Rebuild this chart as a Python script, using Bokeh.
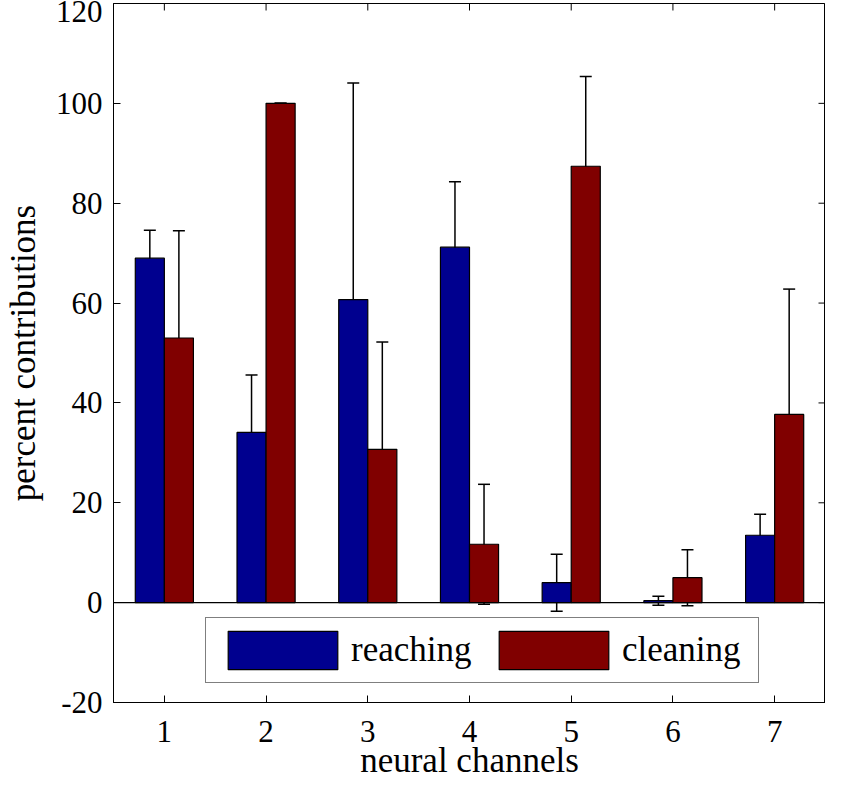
import numpy as np
from bokeh.plotting import figure
from bokeh.models import (ColumnDataSource, Range1d, FixedTicker, Span,
                          Whisker, TeeHead, Legend, LegendItem)
from bokeh.embed import file_html
from bokeh.resources import INLINE

# ---- data ----
channels = [1, 2, 3, 4, 5, 6, 7]
reaching = [69.0, 34.1, 60.7, 71.2, 4.0, 0.4, 13.5]
reaching_err = [5.6, 11.5, 43.4, 13.1, 5.7, 0.9, 4.2]
cleaning = [53.0, 100.0, 30.7, 11.7, 87.4, 5.0, 37.7]
cleaning_err = [21.5, 0.0, 21.5, 12.0, 18.0, 5.6, 25.1]
y_ticks = [-20, 0, 20, 40, 60, 80, 100, 120]
series_names = ["reaching", "cleaning"]
colors = ["#00008F", "#800000"]

FONT = "Liberation Serif"
bar_w = 0.2857
offset = bar_w / 2
X0, X1 = 0.5, 7.5
Y0, Y1 = -20, 120

ch = np.array(channels, dtype=float)
src_r = ColumnDataSource(dict(
    x=ch - offset, top=reaching,
    upper=np.array(reaching) + np.array(reaching_err),
    lower=np.array(reaching) - np.array(reaching_err)))
src_c = ColumnDataSource(dict(
    x=ch + offset, top=cleaning,
    upper=np.array(cleaning) + np.array(cleaning_err),
    lower=np.array(cleaning) - np.array(cleaning_err)))

p = figure(width=825, height=782, output_backend="svg", toolbar_location=None,
           x_range=Range1d(X0, X1), y_range=Range1d(Y0, Y1),
           min_border_left=105, min_border_right=0, min_border_top=3,
           min_border_bottom=79)
p.grid.visible = False
p.outline_line_color = "black"
p.outline_line_width = 1
p.background_fill_color = "white"
p.border_fill_color = "white"

r1 = p.vbar(x="x", top="top", bottom=0, width=bar_w, source=src_r,
            fill_color=colors[0], line_color="black", line_width=1.2)
r2 = p.vbar(x="x", top="top", bottom=0, width=bar_w, source=src_c,
            fill_color=colors[1], line_color="black", line_width=1.2)

p.add_layout(Span(location=0, dimension="width", line_color="black", line_width=1.2))

for s in (src_r, src_c):
    p.add_layout(Whisker(source=s, base="x", upper="upper", lower="lower",
                         line_color="black", line_width=1.5,
                         upper_head=TeeHead(size=12, line_color="black", line_width=1.5),
                         lower_head=TeeHead(size=12, line_color="black", line_width=1.5)))

# mirrored inward ticks on the top and right edges (half of each dash is clipped away)
p.scatter(x=channels, y=[Y1] * len(channels), marker="dash", angle=np.pi / 2,
          size=14, line_color="black", line_width=1)
p.scatter(x=[X1] * len(y_ticks), y=y_ticks, marker="dash",
          size=14, line_color="black", line_width=1)

def style_axis(ax):
    ax.axis_line_color = "black"
    ax.axis_line_width = 1
    ax.major_tick_line_color = "black"
    ax.major_tick_in = 7
    ax.major_tick_out = 0
    ax.minor_tick_line_color = None
    ax.major_label_text_font = FONT
    ax.major_label_text_color = "black"
    ax.major_label_text_font_size = "31px"
    ax.axis_label_text_font = FONT
    ax.axis_label_text_font_style = "normal"
    ax.axis_label_text_color = "black"
    ax.axis_label_text_font_size = "35px"

xa = p.xaxis[0]
ya = p.yaxis[0]
xa.ticker = FixedTicker(ticks=channels)
ya.ticker = FixedTicker(ticks=y_ticks)
ya.major_label_overrides = {t: str(t) for t in y_ticks}
style_axis(xa)
style_axis(ya)
xa.axis_label = "neural channels"
ya.axis_label = "percent contributions"
xa.major_label_standoff = 18
ya.major_label_standoff = 11
xa.axis_label_standoff = -4
ya.axis_label_standoff = 10

legend = Legend(items=[LegendItem(label=series_names[0], renderers=[r1]),
                       LegendItem(label=series_names[1], renderers=[r2])],
                orientation="horizontal", location=(92, 19), margin=0,
                padding=8, spacing=6, label_standoff=0, label_width=128,
                glyph_width=137, glyph_height=48,
                label_text_font=FONT, label_text_font_size="35px",
                label_text_color="black",
                border_line_color="black", border_line_width=1,
                background_fill_color="white", background_fill_alpha=1)
p.add_layout(legend, "center")

open("out.html", "w").write(file_html(p, INLINE))
